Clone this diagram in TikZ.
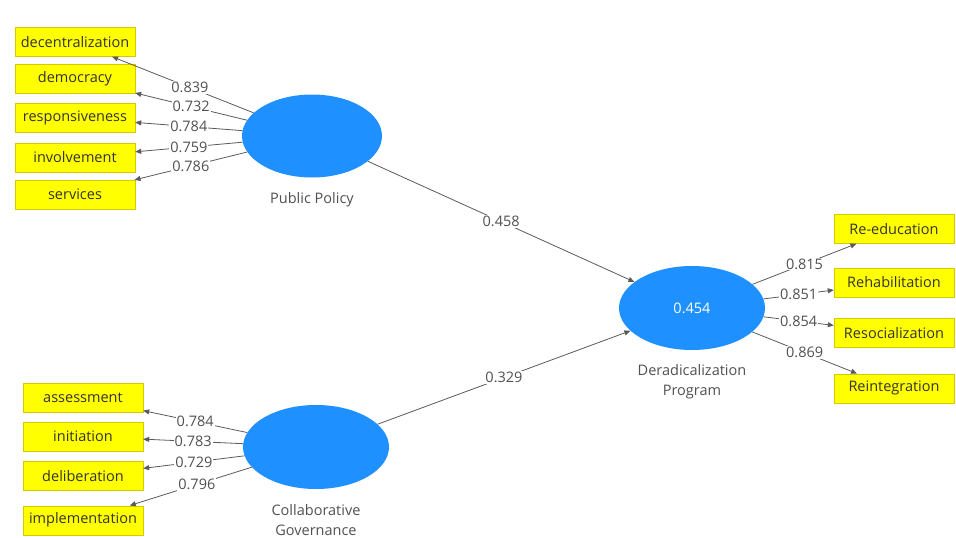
\documentclass[tikz,border=0pt]{standalone}
\usepackage{fontspec}
\setmainfont{Open Sans}
\usepackage{xcolor}
\usetikzlibrary{shapes.geometric, positioning, arrows.meta}
\definecolor{latentblue}{RGB}{30,144,255}
\definecolor{indyellow}{RGB}{255,255,0}
\definecolor{indedge}{RGB}{215,200,0}
\definecolor{txtgray}{RGB}{80,80,80}
\definecolor{linegray}{RGB}{90,90,90}

\begin{document}
\begin{tikzpicture}[
        x=1pt, y=-1pt,
        node distance=9pt and 9pt,
        latent/.style={ellipse, fill=latentblue, draw=none, minimum width=146pt, minimum height=84pt, inner sep=0pt},
        ind/.style={rectangle, fill=indyellow, draw=indedge, minimum width=120pt, minimum height=29pt, inner xsep=3pt, font=\fontsize{14.5}{16}\selectfont, text=black!80},
        lvname/.style={align=center, text=txtgray, font=\fontsize{14.5}{20}\selectfont},
        arr/.style={-{Triangle[length=6pt, width=5pt]}, draw=linegray, line width=0.8pt},
        wt/.style={fill=white, inner sep=1pt, text=txtgray, font=\fontsize{14.5}{16}\selectfont}
    ]
    \useasboundingbox (0,0) rectangle (956,538);

    % latent variables
    \node[latent, minimum width=140pt, minimum height=83pt] (pp) at (312,136) {};
    \node[latent] (cg) at (316,447) {};
    \node[latent, text=white, font=\fontsize{14.5}{16}\selectfont] (dp) at (692,308) {0.454};

    \node[lvname] (ppname) [below=11pt of pp] {Public Policy};
    \node[lvname] (cgname) [below=12pt of cg] {Collaborative\\Governance};
    \node[lvname] (dpname) [below=11pt of dp] {Deradicalization\\Program};

    % indicators of Public Policy
    \node[ind] (decent) at (75,42) {decentralization};
    \node[ind] (democ) [below=7pt of decent.south west, anchor=north west] {democracy};
    \node[ind] (respon) [below=10pt of democ.south west, anchor=north west] {responsiveness};
    \node[ind] (invol) [below=10pt of respon.south west, anchor=north west] {involvement};
    \node[ind] (serv) [below=8pt of invol.south west, anchor=north west] {services};

    % indicators of Collaborative Governance
    \node[ind] (assess) at (83,398) {assessment};
    \node[ind] (initi) [below=9pt of assess] {initiation};
    \node[ind] (delib) [below=10pt of initi] {deliberation};
    \node[ind] (implem) [below=15pt of delib] {implementation};

    % indicators of Deradicalization Program
    \node[ind] (reedu) at (894,229) {Re-education};
    \node[ind] (rehab) [below=24pt of reedu] {Rehabilitation};
    \node[ind] (resoc) [below=21pt of rehab] {Resocialization};
    \node[ind] (reint) [below=26pt of resoc] {Reintegration};

    % outer loadings
    \draw[arr] (pp) -- node[wt, pos=0.45] {0.839} (decent);
    \draw[arr] (pp) -- node[wt, pos=0.5] {0.732} (democ);
    \draw[arr] (pp) -- node[wt, pos=0.5] {0.784} (respon);
    \draw[arr] (pp) -- node[wt, pos=0.5] {0.759} (invol);
    \draw[arr] (pp) -- node[wt, pos=0.5] {0.786} (serv);

    \draw[arr] (cg) -- node[wt, pos=0.5] {0.784} (assess);
    \draw[arr] (cg) -- node[wt, pos=0.5] {0.783} (initi);
    \draw[arr] (cg) -- node[wt, pos=0.5] {0.729} (delib);
    \draw[arr] (cg) -- node[wt, pos=0.45] {0.796} (implem);

    \draw[arr] (dp) -- node[wt, pos=0.5] {0.815} (reedu);
    \draw[arr] (dp) -- node[wt, pos=0.5] {0.851} (rehab);
    \draw[arr] (dp) -- node[wt, pos=0.5] {0.854} (resoc);
    \draw[arr] (dp) -- node[wt, pos=0.5] {0.869} (reint);

    % path coefficients
    \draw[arr] (pp) -- node[wt] {0.458} (dp);
    \draw[arr] (cg) -- node[wt] {0.329} (dp);

\end{tikzpicture}
\end{document}
